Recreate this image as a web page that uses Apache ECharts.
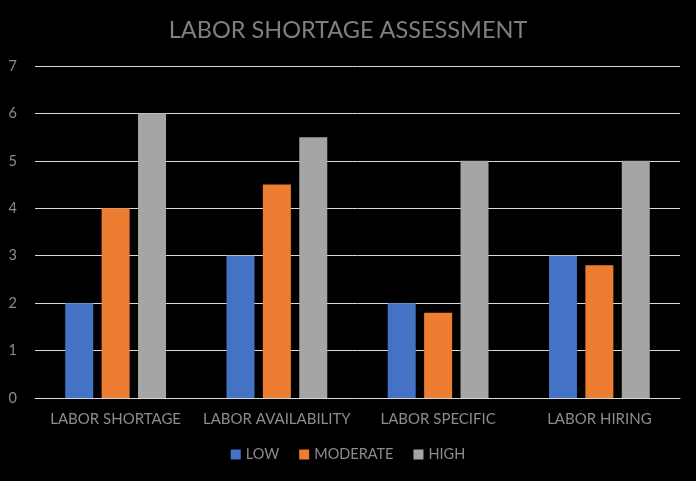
<!DOCTYPE html>
<html><head><meta charset="utf-8">
<script src="https://cdn.jsdelivr.net/npm/echarts@6/dist/echarts.min.js"></script>
<style>html,body{margin:0;padding:0;background:#000;}#c{width:696px;height:481px;}</style>
</head><body><div id="c"></div>
<script>
const categories = ['LABOR SHORTAGE', 'LABOR AVAILABILITY', 'LABOR SPECIFIC', 'LABOR HIRING'];
const lowValues = [2, 3, 2, 3];
const moderateValues = [4, 4.5, 1.8, 2.8];
const highValues = [6, 5.5, 5, 5];
const seriesNames = ['LOW', 'MODERATE', 'HIGH'];
const yTicks = { min: 0, max: 7, interval: 1 };

const font = 'Lato, "Open Sans", sans-serif';
const chart = echarts.init(document.getElementById('c'));
chart.setOption({
  backgroundColor: '#000000',
  animation: false,
  title: {
    text: 'LABOR SHORTAGE ASSESSMENT', left: 'center', top: 13,
    textStyle: { color: '#7f7f7f', fontSize: 23.5, fontWeight: 'normal', fontFamily: font }
  },
  legend: {
    data: seriesNames, bottom: 14, left: 'center', itemWidth: 10, itemHeight: 10, itemGap: 20,
    icon: 'rect',
    textStyle: { color: '#8c8c8c', fontSize: 14.5, fontFamily: font }
  },
  grid: { left: 35, right: 16, top: 66, bottom: 83, containLabel: false },
  xAxis: {
    type: 'category', data: categories,
    axisLine: { lineStyle: { color: '#d9d9d9', width: 1 } },
    axisTick: { show: false },
    axisLabel: { color: '#8c8c8c', fontSize: 15, fontFamily: font, margin: 14, interval: 0 }
  },
  yAxis: {
    type: 'value', min: yTicks.min, max: yTicks.max, interval: yTicks.interval,
    axisLine: { show: false }, axisTick: { show: false },
    splitLine: { lineStyle: { color: '#d9d9d9', width: 1 } },
    axisLabel: { color: '#8c8c8c', fontSize: 14.5, fontFamily: font, margin: 18 }
  },
  series: [
    { name: seriesNames[0], type: 'bar', data: lowValues, barWidth: 28, barGap: '30%', itemStyle: { color: '#4472C4' } },
    { name: seriesNames[1], type: 'bar', data: moderateValues, barWidth: 28, barGap: '30%', itemStyle: { color: '#ED7D31' } },
    { name: seriesNames[2], type: 'bar', data: highValues, barWidth: 28, barGap: '30%', itemStyle: { color: '#A5A5A5' } }
  ]
});
</script></body></html>
